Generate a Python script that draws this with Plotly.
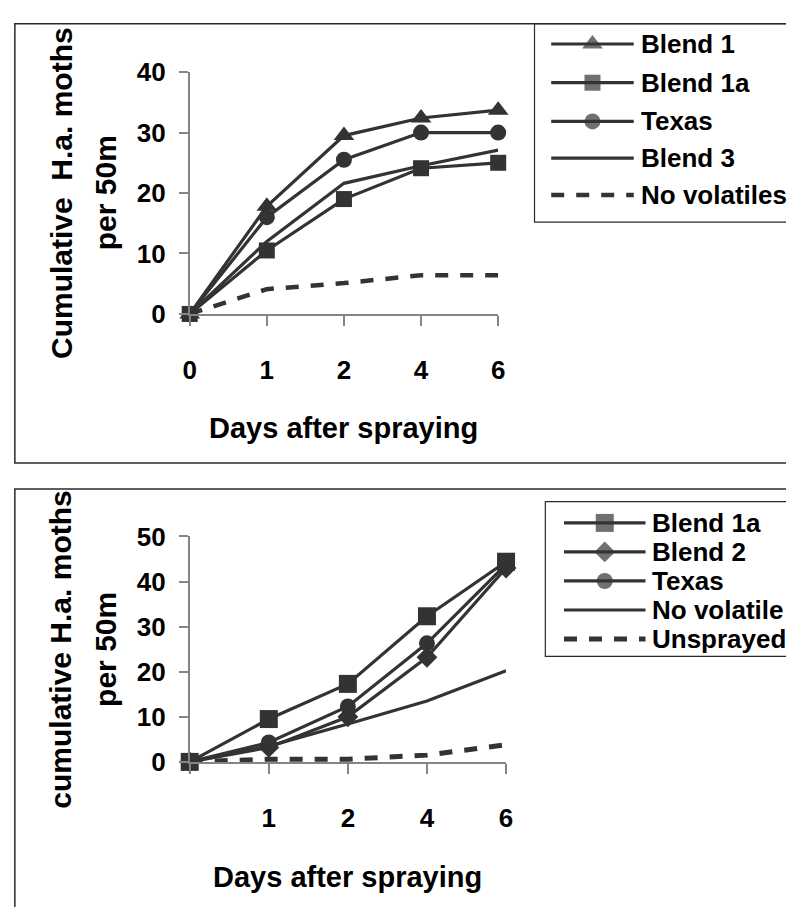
import plotly.graph_objects as go

W, H = 793, 922

# ---------------- data ----------------
days_top = ["0", "1", "2", "4", "6"]
days_bottom = ["", "1", "2", "4", "6"]

top_names = ["Blend 1", "Blend 1a", "Texas", "Blend 3", "No volatiles"]
top_blend1 = [0, 17.8, 29.5, 32.4, 33.7]
top_blend1a = [0, 10.5, 19.0, 24.1, 25.0]
top_texas = [0, 16.0, 25.5, 30.0, 30.0]
top_blend3 = [0, 12.0, 21.6, 24.5, 27.1]
top_novol = [0, 4.1, 5.1, 6.4, 6.4]

bot_names = ["Blend 1a", "Blend 2", "Texas", "No volatile", "Unsprayed"]
bot_blend1a = [0, 9.5, 17.3, 32.3, 44.4]
bot_blend2 = [0, 3.2, 10.0, 23.2, 43.0]
bot_texas = [0, 4.3, 12.3, 26.3, 43.8]
bot_novol = [0, 3.5, 8.4, 13.5, 20.2]
bot_unsprayed = [0, 0.6, 0.6, 1.5, 3.8]

top_yticks = [0, 10, 20, 30, 40]
bot_yticks = [0, 10, 20, 30, 40, 50]

# ---------------- style ----------------
FONT = "Liberation Sans, Arial, sans-serif"
INK = "#333333"
AXIS = "#858585"
FRAME = "#2a2a2a"

# style per series: (symbol, marker size, dash, width)
top_styles = [("triangle-up", 18, "solid", 3.2),
              ("square", 16, "solid", 3.2),
              ("circle", 16, "solid", 3.2),
              (None, 0, "solid", 3.2),
              (None, 0, "13px,12px", 4.5)]
bot_styles = [("square", 18, "solid", 3.2),
              ("diamond", 16, "solid", 3.2),
              ("circle", 16, "solid", 3.2),
              (None, 0, "solid", 3.2),
              (None, 0, "13px,12px", 5)]

fig = go.Figure()


def add_series(xa, ya, cats, vals, style, name):
    sym, ms, dash, w = style
    fig.add_trace(go.Scatter(
        x=list(range(len(cats))), y=vals, xaxis=xa, yaxis=ya, name=name,
        mode="lines+markers" if sym else "lines",
        line=dict(color=INK, width=w, dash=dash),
        marker=dict(symbol=sym or "circle", size=ms, color=INK,
                    line=dict(width=0)),
        cliponaxis=False, showlegend=False, hoverinfo="x+y+name"))


for vals, st, nm in zip([top_blend1, top_blend1a, top_texas, top_blend3, top_novol],
                        top_styles, top_names):
    add_series("x", "y", days_top, vals, st, nm)
for vals, st, nm in zip([bot_blend1a, bot_blend2, bot_texas, bot_novol, bot_unsprayed],
                        bot_styles, bot_names):
    add_series("x2", "y2", days_bottom, vals, st, nm)


# ---------------- manual legends on a pixel helper axis ----------------
def legend_rows(names, styles, x0, x1, ys, tx):
    for nm, st, yy in zip(names, styles, ys):
        sym, ms, dash, w = st
        fig.add_trace(go.Scatter(
            x=[x0, (x0 + x1) / 2, x1], y=[yy] * 3, xaxis="x3", yaxis="y3",
            mode="lines+markers" if sym else "lines",
            line=dict(color=INK, width=w, dash=dash),
            marker=dict(symbol=sym or "circle", size=[0, ms, 0], color=INK,
                        line=dict(width=0)),
            cliponaxis=False, showlegend=False, hoverinfo="skip"))
        fig.add_annotation(x=tx, y=yy, xref="x3", yref="y3", text=nm,
                           showarrow=False, xanchor="left", yanchor="middle",
                           font=dict(family=FONT, size=26, color="black", weight="bold"))


legend_rows(top_names, top_styles, 554, 638, [30, 70, 110, 148, 186], 643)
legend_rows(bot_names, bot_styles, 567, 650, [525, 555, 585, 615, 645], 655)

# frames
shapes = [
    dict(type="rect", xref="x3", yref="y3", x0=8, x1=W + 20, y0=9, y1=463,
         line=dict(color=FRAME, width=1.5)),
    dict(type="rect", xref="x3", yref="y3", x0=537, x1=W + 20, y0=9, y1=214,
         line=dict(color=FRAME, width=1.2)),
    dict(type="rect", xref="x3", yref="y3", x0=8, x1=W + 20, y0=490, y1=H + 20,
         line=dict(color=FRAME, width=1.5)),
    dict(type="rect", xref="x3", yref="y3", x0=548, x1=W + 20, y0=503, y1=663,
         line=dict(color=FRAME, width=1.2)),
]

# axis titles
def title(x, y, text, size, angle=0):
    fig.add_annotation(x=x, y=y, xref="x3", yref="y3", text=text, showarrow=False,
                       textangle=angle, xanchor="center", yanchor="middle",
                       font=dict(family=FONT, size=size, color="black", weight="bold"))


title(55, 184, "Cumulative  H.a. moths", 30, -90)
title(100, 184, "per 50m", 30, -90)
title(343, 427, "Days after spraying", 29)
title(55, 656, "cumulative H.a. moths", 30, -90)
title(100, 656, "per 50m", 30, -90)
title(347, 891, "Days after spraying", 29)

tickfont = dict(family=FONT, size=26, color="black", weight="bold")
common_x = dict(showline=True, linecolor=AXIS, linewidth=1.5, ticks="outside",
                ticklen=10, tickwidth=1.5, tickcolor=AXIS, showgrid=False,
                zeroline=False, tickfont=tickfont, ticklabelstandoff=22,
                fixedrange=True)
common_y = dict(showline=True, linecolor=AXIS, linewidth=1.5, ticks="outside",
                ticklen=9, tickwidth=1.5, tickcolor=AXIS, showgrid=False,
                zeroline=False, tickfont=tickfont, ticklabelstandoff=8,
                fixedrange=True)

fig.update_layout(
    width=W, height=H, margin=dict(l=0, r=0, t=0, b=0),
    paper_bgcolor="white", plot_bgcolor="rgba(0,0,0,0)",
    showlegend=False, shapes=shapes,
    xaxis=dict(domain=[186 / W, 500 / W], anchor="y", range=[0, 4],
               tickvals=list(range(len(days_top))), ticktext=days_top, **common_x),
    yaxis=dict(domain=[1 - 309 / H, 1 - 59 / H], anchor="x", range=[0, 40],
               tickvals=top_yticks, **common_y),
    xaxis2=dict(domain=[186 / W, 508 / W], anchor="y2", range=[0, 4],
                tickvals=list(range(len(days_bottom))), ticktext=days_bottom, **common_x),
    yaxis2=dict(domain=[1 - 772 / H, 1 - 539 / H], anchor="x2", range=[0, 50],
                tickvals=bot_yticks, **common_y),
    xaxis3=dict(domain=[0, 1], anchor="y3", range=[0, W], visible=False, fixedrange=True),
    yaxis3=dict(domain=[0, 1], anchor="x3", range=[H, 0], visible=False, fixedrange=True),
)

fig.write_html(
    "out.html",
    config={"displayModeBar": False},
    post_script="document.body.style.margin='0';document.body.style.padding='0';"
                "document.documentElement.style.overflow='hidden';",
)
